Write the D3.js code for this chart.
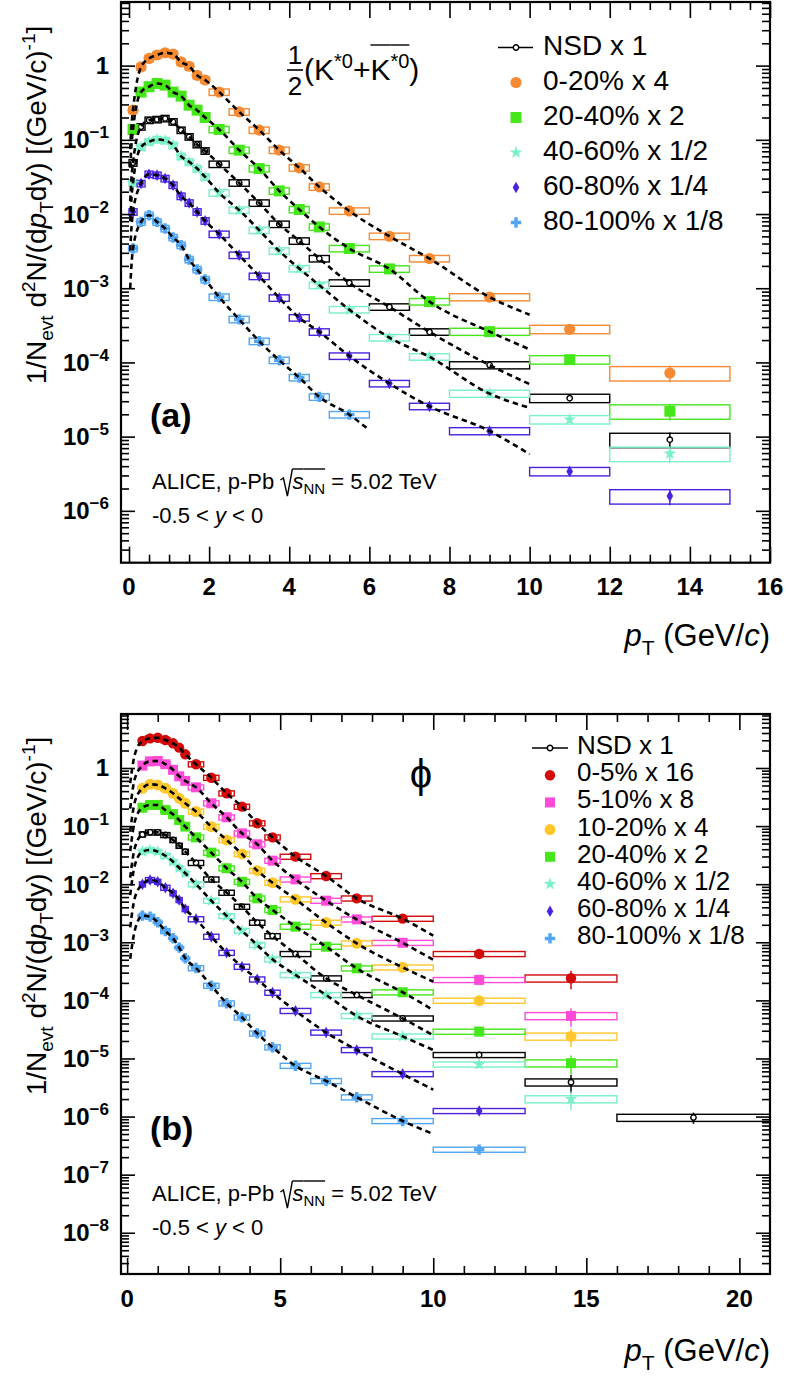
<!DOCTYPE html>
<html>
<head>
<meta charset="utf-8">
<script src="https://cdn.jsdelivr.net/npm/d3@7"></script>
<style>
body{margin:0;background:#fff;}
svg text{font-family:"Liberation Sans",Arial,Helvetica,sans-serif;fill:#000;white-space:pre;}
</style>
</head>
<body>
<svg id="chart" width="786" height="1383"></svg>
<script>
// ---- (a) K*0 spectra, pT bin edges and yields (already scaled) ----
const kEdges  = [0,0.2,0.4,0.6,0.8,1.0,1.2,1.4,1.6,1.8,2.0,2.5,3.0,3.5,4.0,4.5,5.0,6.0,7.0,8.0,10,12,15];
const kNSD    = [0.049,0.15,0.184,0.188,0.194,0.175,0.135,0.11,0.0866,0.071,0.047,0.0263,0.0141,0.0073,0.00434,0.00251,0.00118,5.6e-4,2.58e-4,9.2e-5,3.3e-5,9.1e-6];
const k0020   = [0.251,0.96,1.25,1.39,1.49,1.43,1.12,0.98,0.74,0.64,0.44,0.238,0.135,0.0726,0.042,0.0232,0.011,0.00502,0.00251,7.6e-4,2.8e-4,7.2e-5];
const k2040   = [0.138,0.44,0.52,0.574,0.546,0.44,0.388,0.293,0.251,0.2,0.138,0.0726,0.041,0.0205,0.0115,0.0067,0.00343,0.00182,6.6e-4,2.6e-4,1.09e-4,2.2e-5];
const k4060   = [0.0263,0.08,0.094,0.101,0.098,0.085,0.06,0.0505,0.041,0.0317,0.0193,0.0113,0.00605,0.00318,0.00184,0.0011,5.15e-4,2.16e-4,1.19e-4,3.8e-5,1.7e-5,5.9e-6];
const k6080   = [0.0107,0.0258,0.0344,0.0334,0.0301,0.0245,0.0174,0.0141,0.0107,0.0081,0.00535,0.00279,0.00145,7.4e-4,4.0e-4,2.58e-4,1.22e-4,5.2e-5,2.56e-5,1.19e-5,3.4e-6,1.58e-6];
const k80100  = [0.00343,0.00783,0.00964,0.00783,0.00638,0.00483,0.0038,0.00244,0.00179,0.00131,7.6e-4,3.8e-4,1.93e-4,1.07e-4,6.25e-5,3.43e-5,1.98e-5,null,null,null,null,null];
const kSys    = [0.1,0.1,0.1,0.1,0.1,0.1,0.1,0.1,0.1,0.1,0.1,0.1,0.1,0.1,0.1,0.1,0.1,0.1,0.1,0.11,0.13,0.22];
const kStat   = [0,0,0,0,0,0,0,0,0,0,0,0.01,0.01,0.02,0.02,0.03,0.03,0.04,0.05,0.06,0.1,0.25];
// fit curves: two low-pT points, then through the data, then end point
const kFitNSD   = [[0.03,0.015],[0.06,0.03],[10,5.1e-5]];
const kFit0020  = [[0.03,0.075],[0.06,0.15],[10,4.4e-4]];
const kFit2040  = [[0.03,0.042],[0.06,0.083],[10,1.5e-4]];
const kFit4060  = [[0.03,0.008],[0.06,0.016],[10,2.44e-5]];
const kFit6080  = [[0.03,0.0032],[0.06,0.0064],[10,5.8e-6]];
const kFit80100 = [[0.03,0.001],[0.06,0.002],[6,1.22e-5]];

// ---- (b) phi spectra ----
const phiEdges = [0.4,0.6,0.9,1.1,1.4,1.6,1.8,2.0,2.5,3.0,3.5,4.0,4.5,5.0,6.0,7.0,8.0,10,13,16,21];
const phiNSD   = [0.072,0.078,0.078,0.0703,0.0577,0.046,0.0363,0.0233,0.0121,0.00715,0.0041,0.00218,0.00128,6.3e-4,2.4e-4,1.24e-4,4.9e-5,1.15e-5,3.9e-6,9.6e-7];
const phi005   = [2.92,3.24,3.32,3.03,2.66,2.24,1.72,1.16,0.68,0.367,0.216,0.112,0.064,0.0298,0.0138,0.0057,0.00255,6.3e-4,2.4e-4,null];
const phi510   = [1.1,1.3,1.32,1.16,0.93,0.72,0.6,0.465,0.247,0.142,0.075,0.0486,0.0254,0.0121,0.0052,0.00248,9.8e-4,2.25e-4,5.4e-5,null];
const phi1020  = [0.447,0.524,0.51,0.447,0.367,0.3,0.247,0.178,0.0977,0.0577,0.0331,0.0171,0.0106,0.0055,0.00218,9.6e-4,3.7e-4,9.9e-5,2.4e-5,null];
const phi2040  = [0.207,0.231,0.231,0.189,0.16,0.127,0.098,0.064,0.0349,0.0188,0.011,0.0057,0.0036,0.00186,8.4e-4,3.56e-4,1.38e-4,2.9e-5,8.3e-6,null];
const phi4060  = [0.0363,0.0388,0.0363,0.0309,0.0244,0.0192,0.0154,0.01,0.0052,0.00284,0.00158,9.0e-4,5.1e-4,2.74e-4,1.24e-4,5.4e-5,2.4e-5,7.9e-6,2.0e-6,null];
const phi6080  = [0.00996,0.0118,0.011,0.0087,0.007,0.00535,0.00374,0.0025,0.00125,6.6e-4,3.8e-4,2.3e-4,1.36e-4,6.6e-5,2.8e-5,1.4e-5,5.4e-6,1.25e-6,null,null];
const phi80100 = [0.00287,0.00276,0.00221,0.00156,0.00117,8.1e-4,5.3e-4,3.6e-4,1.79e-4,8.9e-5,5.1e-5,2.7e-5,1.56e-5,7.5e-6,4.1e-6,2.15e-6,8.4e-7,2.7e-7,null,null];
const phiSys   = [0.1,0.1,0.1,0.1,0.1,0.1,0.1,0.1,0.1,0.1,0.1,0.1,0.1,0.1,0.1,0.1,0.1,0.1,0.14,0.14];
const phiStat  = [0,0,0,0,0,0,0,0.01,0.01,0.02,0.02,0.03,0.03,0.04,0.05,0.06,0.08,0.12,0.35,0.22];
const phiFitNSD   = [[0.1,0.013],[0.25,0.042],[10,2.5e-5]];
const phiFit005   = [[0.1,0.55],[0.25,1.7],[10,1.3e-3]];
const phiFit510   = [[0.1,0.2],[0.25,0.65],[10,5e-4]];
const phiFit1020  = [[0.1,0.08],[0.25,0.26],[10,2.1e-4]];
const phiFit2040  = [[0.1,0.037],[0.25,0.12],[10,6.8e-5]];
const phiFit4060  = [[0.1,0.0065],[0.25,0.021],[10,1.4e-5]];
const phiFit6080  = [[0.1,0.0018],[0.25,0.0058],[10,2.9e-6]];
const phiFit80100 = [[0.1,0.00052],[0.25,0.0016],[10,5e-7]];

// ---- marker styles ----
const stNSD    = {shape:'circle', r:2.7, color:'#000', open:true};
const stOrange = {shape:'circle', r:5.6, color:'#f58a33'};
const stGreen  = {shape:'square', s:11, color:'#45e61a'};
const stAqua   = {shape:'star', s:50, color:'#78f0c8'};
const stViolet = {shape:'diamond', w:3.3, h:5.8, color:'#4a22e0'};
const stLBlue  = {shape:'cross', s:60, color:'#52a5f2'};
const stRed    = {shape:'circle', r:5.2, color:'#d20a0a'};
const stMag    = {shape:'square', s:10, color:'#ff4bd8'};
const stYellow = {shape:'circle', r:5.5, color:'#ffc72c'};
const stGreen2 = {shape:'square', s:10, color:'#45e61a'};

const svg = d3.select('#chart');
const FL = 121, FR = 770;

function markerPath(m){
	if(m.shape==='circle') return d3.symbol(d3.symbolCircle, Math.PI*m.r*m.r)();
	if(m.shape==='square') return d3.symbol(d3.symbolSquare, m.s*m.s)();
	if(m.shape==='star') return d3.symbol(d3.symbolStar, m.s)();
	if(m.shape==='cross') return d3.symbol(d3.symbolCross, m.s)();
	return `M0,${-m.h}L${m.w},0L0,${m.h}L${-m.w},0Z`;
}
function putMarker(g, m, cx, cy){
	g.append('path')
		.attr('d', markerPath(m))
		.attr('transform', `translate(${cx},${cy})`)
		.attr('fill', m.open ? '#fff' : m.color)
		.attr('stroke', m.open ? m.color : 'none')
		.attr('stroke-width', 1.4);
}

// text made of pieces (sub/superscripts, italics, overlines); returns width
function rich(parent, parts, size){
	const g = parent.append('g');
	let cx = 0;
	parts.forEach(p=>{
		if(p.sqrt){
			g.append('path').attr('d',`M${cx},-9L${cx+3},-11L${cx+7},7L${cx+12},${p.over}`)
				.attr('fill','none').attr('stroke','#000').attr('stroke-width',1.4);
			cx += 12;
			return;
		}
		const t = g.append('text').attr('x',cx).attr('y',p.dy||0)
			.attr('font-size',p.size||size)
			.attr('font-style',p.it?'italic':null)
			.attr('font-weight',p.bold?'bold':null)
			.text(p.t);
		const w = t.node().getComputedTextLength();
		if(p.over!==undefined){
			g.append('line').attr('x1',cx).attr('x2',cx+w).attr('y1',p.over).attr('y2',p.over)
				.attr('stroke','#000').attr('stroke-width',1.4);
		}
		cx += w;
	});
	return {g, width:cx};
}

function drawPanel(p){
	const g = svg.append('g');
	const x = d3.scaleLinear().domain(p.xDomain).range([FL, FR]);
	const y = d3.scaleLog().domain(p.yDomain).range([p.bottom, p.top]);
	const pt = p.edges.slice(1).map((e,i)=>(p.edges[i]+e)/2);

	// systematic boxes
	p.series.forEach(s=>{
		const rows = s.vals.map((v,i)=>({v,i})).filter(d=>d.v!=null);
		g.append('g').selectAll('rect').data(rows).join('rect')
			.attr('x', d=>x(p.edges[d.i]))
			.attr('width', d=>x(p.edges[d.i+1])-x(p.edges[d.i]))
			.attr('y', d=>y(d.v*(1+p.sys[d.i])))
			.attr('height', d=>y(d.v*(1-p.sys[d.i]))-y(d.v*(1+p.sys[d.i])))
			.attr('fill','none')
			.attr('stroke', s.style.color)
			.attr('stroke-width',1.4);
	});
	// stat error bars
	p.series.forEach(s=>{
		const rows = s.vals.map((v,i)=>({v,i})).filter(d=>d.v!=null && p.stat[d.i]>0);
		g.append('g').selectAll('line').data(rows).join('line')
			.attr('x1', d=>x(pt[d.i])).attr('x2', d=>x(pt[d.i]))
			.attr('y1', d=>y(d.v*(1+p.stat[d.i])))
			.attr('y2', d=>y(d.v*(1-p.stat[d.i])))
			.attr('stroke', s.style.color)
			.attr('stroke-width',1.5);
	});
	// markers
	p.series.forEach(s=>{
		const mg = g.append('g');
		s.vals.forEach((v,i)=>{ if(v!=null) putMarker(mg, s.style, x(pt[i]), y(v)); });
	});
	// fit curves
	const line = d3.line().x(d=>x(d[0])).y(d=>y(d[1])).curve(d3.curveMonotoneX);
	p.series.forEach(s=>{
		const f = s.fit, end = f[f.length-1], head = f.slice(0,-1);
		const mid = s.vals.map((v,i)=>[pt[i],v])
			.filter(d=>d[1]!=null && d[0]>head[head.length-1][0] && d[0]<end[0]);
		g.append('path')
			.attr('d', line(head.concat(mid,[end])))
			.attr('fill','none')
			.attr('stroke','#000')
			.attr('stroke-width',2.6)
			.attr('stroke-dasharray','5.5,4');
	});

	// axes (ROOT style ticks on all four sides)
	const lo = Math.ceil(Math.log10(p.yDomain[0])), hi = Math.floor(Math.log10(p.yDomain[1]));
	const decades = d3.range(lo, hi+1).map(e=>Math.pow(10,e));
	const minors = [];
	for(let e=lo-1;e<=hi;e++) for(let m=2;m<=9;m++){
		const v = m*Math.pow(10,e);
		if(v>p.yDomain[0] && v<p.yDomain[1]) minors.push(v);
	}
	const xMinor = p.xMinor.filter(v=>p.xMajor.indexOf(v)<0);
	const ax = (axis, tr)=>g.append('g').attr('transform',tr).call(axis)
		.call(a=>{ a.select('.domain').remove(); a.selectAll('line').attr('stroke-width',1.6); });
	ax(d3.axisLeft(y).tickValues(decades).tickSize(-14).tickFormat(''), `translate(${FL},0)`);
	ax(d3.axisLeft(y).tickValues(minors).tickSize(-8).tickFormat(''), `translate(${FL},0)`);
	ax(d3.axisRight(y).tickValues(decades).tickSize(-14).tickFormat(''), `translate(${FR},0)`);
	ax(d3.axisRight(y).tickValues(minors).tickSize(-8).tickFormat(''), `translate(${FR},0)`);
	ax(d3.axisBottom(x).tickValues(p.xMajor).tickSize(-16).tickFormat(''), `translate(0,${p.bottom})`);
	ax(d3.axisBottom(x).tickValues(xMinor).tickSize(-8).tickFormat(''), `translate(0,${p.bottom})`);
	ax(d3.axisTop(x).tickValues(p.xMajor).tickSize(-16).tickFormat(''), `translate(0,${p.top})`);
	ax(d3.axisTop(x).tickValues(xMinor).tickSize(-8).tickFormat(''), `translate(0,${p.top})`);

	g.append('rect').attr('x',FL).attr('y',p.top).attr('width',FR-FL).attr('height',p.bottom-p.top)
		.attr('fill','none').attr('stroke','#000').attr('stroke-width',2.2);

	// tick labels
	g.append('g').selectAll('text').data(p.xMajor).join('text')
		.attr('x', d=>x(d)).attr('y', p.xLabelY)
		.attr('text-anchor','middle').attr('font-weight','bold').attr('font-size',24)
		.text(d=>d);
	decades.forEach(v=>{
		const e = Math.round(Math.log10(v));
		const t = g.append('text').attr('x',109).attr('y',y(v)+8.5)
			.attr('text-anchor','end').attr('font-weight','bold').attr('font-size',24);
		if(e===0) t.text('1');
		else {
			t.append('tspan').text('10');
			t.append('tspan').attr('dy',-10).attr('font-size',17).text('\u2212'+(-e));
		}
	});

	// axis titles
	const xt = rich(g, [{t:'p',it:true},{t:'T',size:21,dy:9},{t:' (GeV/'},{t:'c',it:true},{t:')'}], 31);
	xt.g.attr('transform',`translate(${FR-xt.width},${p.xTitleY})`);
	const yg = g.append('g').attr('transform',`translate(46,${p.yTitleMid}) rotate(-90)`);
	const yt = rich(yg, [
		{t:'1/N'},{t:'evt',size:19,dy:7},{t:' d'},{t:'2',size:19,dy:-11},{t:'N/(d'},
		{t:'p',it:true},{t:'T',size:19,dy:7},{t:'dy) [(GeV/c)'},{t:'-1',size:19,dy:-11},{t:']'}
	], 28);
	yt.g.attr('transform',`translate(${-yt.width/2},0)`);

	// panel letter and collision system
	g.append('text').attr('x',150).attr('y',p.letterY).attr('font-weight','bold').attr('font-size',34).text(p.letter);
	const al = rich(g, [{t:'ALICE, p-Pb '},{sqrt:true,over:-20},{t:'s',it:true,over:-20},{t:'NN',size:15,dy:5,over:-20},{t:' = 5.02 TeV'}], 22);
	al.g.attr('transform',`translate(152,${p.aliceY})`);
	const rap = rich(g, [{t:'-0.5 < '},{t:'y',it:true},{t:' < 0'}], 22);
	rap.g.attr('transform',`translate(152,${p.aliceY+34})`);

	// legend
	const L = p.legend;
	p.series.forEach((s,i)=>{
		const yb = L.y0 + i*L.dy, ym = yb - L.off;
		if(s.style.open){
			g.append('line').attr('x1',L.lx0).attr('x2',L.lx1).attr('y1',ym).attr('y2',ym)
				.attr('stroke','#000').attr('stroke-width',1.4);
		}
		putMarker(g, s.style, L.mx, ym);
		g.append('text').attr('x',L.tx).attr('y',yb).attr('font-size',L.size).text(s.name);
	});
	return g;
}

const gA = drawPanel({
	edges:kEdges, sys:kSys, stat:kStat,
	xDomain:[-0.2,16], yDomain:[2e-7,7.2], top:2, bottom:562.7,
	xMajor:d3.range(0,16.01,2), xMinor:d3.range(0,16.01,0.5),
	xLabelY:595, xTitleY:646, yTitleMid:205,
	letter:'(a)', letterY:427, aliceY:489,
	legend:{y0:55, dy:35, off:7.5, mx:516, tx:543, lx0:498, lx1:533, size:28},
	series:[
		{name:'NSD x 1', vals:kNSD, fit:kFitNSD, style:stNSD},
		{name:'0-20% x 4', vals:k0020, fit:kFit0020, style:stOrange},
		{name:'20-40% x 2', vals:k2040, fit:kFit2040, style:stGreen},
		{name:'40-60% x 1/2', vals:k4060, fit:kFit4060, style:stAqua},
		{name:'60-80% x 1/4', vals:k6080, fit:kFit6080, style:stViolet},
		{name:'80-100% x 1/8', vals:k80100, fit:kFit80100, style:stLBlue}
	]
});
// 1/2 (K*0 + anti-K*0)
gA.append('text').attr('x',295).attr('y',64).attr('text-anchor','middle').attr('font-size',26).text('1');
gA.append('line').attr('x1',287).attr('x2',303).attr('y1',70).attr('y2',70).attr('stroke','#000').attr('stroke-width',1.6);
gA.append('text').attr('x',295).attr('y',95).attr('text-anchor','middle').attr('font-size',26).text('2');
const kl = rich(gA, [{t:'(K'},{t:'*0',size:20,dy:-12},{t:'+'},{t:'K',over:-35},{t:'*0',size:20,dy:-12,over:-35},{t:')'}], 30);
kl.g.attr('transform','translate(304,80)');

const gB = drawPanel({
	edges:phiEdges, sys:phiSys, stat:phiStat,
	xDomain:[-0.2,21], yDomain:[1.95e-9,8.5], top:714, bottom:1274,
	xMajor:d3.range(0,21,5), xMinor:d3.range(0,21,1),
	xLabelY:1307, xTitleY:1361, yTitleMid:916,
	letter:'(b)', letterY:1140, aliceY:1201,
	legend:{y0:754, dy:27.2, off:6, mx:550, tx:577, lx0:532, lx1:568, size:26},
	series:[
		{name:'NSD x 1', vals:phiNSD, fit:phiFitNSD, style:stNSD},
		{name:'0-5% x 16', vals:phi005, fit:phiFit005, style:stRed},
		{name:'5-10% x 8', vals:phi510, fit:phiFit510, style:stMag},
		{name:'10-20% x 4', vals:phi1020, fit:phiFit1020, style:stYellow},
		{name:'20-40% x 2', vals:phi2040, fit:phiFit2040, style:stGreen2},
		{name:'40-60% x 1/2', vals:phi4060, fit:phiFit4060, style:stAqua},
		{name:'60-80% x 1/4', vals:phi6080, fit:phiFit6080, style:stViolet},
		{name:'80-100% x 1/8', vals:phi80100, fit:phiFit80100, style:stLBlue}
	]
});
gB.append('text').attr('x',421).attr('y',788).attr('text-anchor','middle')
	.attr('font-family','"Liberation Serif","DejaVu Serif",serif').attr('font-size',40).text('\u03D5');
</script>
</body>
</html>
